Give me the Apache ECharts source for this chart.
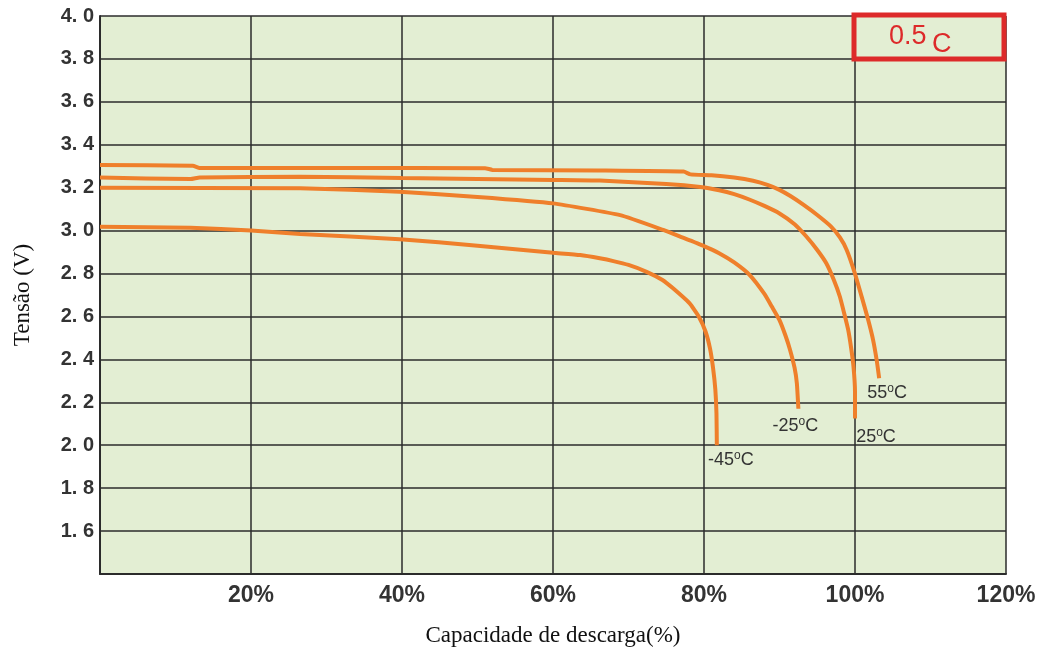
<!DOCTYPE html>
<html>
<head>
<meta charset="utf-8">
<title>Curvas de descarga 0.5C</title>
<script src="https://cdn.jsdelivr.net/npm/echarts@6/dist/echarts.min.js"></script>
<style>
  html, body { margin: 0; padding: 0; background: #ffffff; }
  #chart { width: 1048px; height: 653px; }
</style>
</head>
<body>
<div id="chart"></div>
<script>
// Discharge curves: [capacity %, voltage V]
const curve55 = [
  [0, 3.306], [12.3, 3.302], [13.2, 3.292], [33, 3.292], [51, 3.291], [52, 3.283],
  [66, 3.28], [77.3, 3.275], [78.2, 3.262], [81, 3.258], [84, 3.247], [86.5, 3.232],
  [88.5, 3.212], [90, 3.19], [91.5, 3.16], [93.2, 3.12], [95, 3.073], [96.8, 3.02],
  [98, 2.968], [98.9, 2.91], [99.9, 2.81], [100.9, 2.69], [101.7, 2.59], [102.4, 2.49],
  [102.9, 2.39], [103.2, 2.312]
];
const curve25 = [
  [0, 3.247], [12, 3.24], [13.2, 3.248], [26.5, 3.251], [40, 3.245], [60, 3.236],
  [66.2, 3.233], [75, 3.217], [79.5, 3.203], [82, 3.188], [84, 3.17], [86, 3.145],
  [88, 3.115], [90, 3.08], [92, 3.03], [93.5, 2.975], [95, 2.91], [96.2, 2.848],
  [97.2, 2.77], [98, 2.692], [98.6, 2.61], [99.1, 2.537], [99.5, 2.45], [99.8, 2.366],
  [100, 2.25], [100, 2.125]
];
const curveM25 = [
  [0, 3.2], [26.5, 3.197], [39.7, 3.181], [50, 3.157], [60, 3.127], [68.9, 3.072],
  [74.6, 3.003], [77, 2.97], [80, 2.928], [82, 2.895], [84, 2.852], [86, 2.795],
  [88, 2.705], [89, 2.645], [90, 2.583], [90.8, 2.51], [91.4, 2.444], [92, 2.36],
  [92.3, 2.288], [92.5, 2.17]
];
const curveM45 = [
  [0, 3.018], [12, 3.013], [20, 3.0], [26.5, 2.984], [39.7, 2.96], [50, 2.93],
  [60, 2.897], [63.6, 2.886], [66.2, 2.871], [68, 2.858], [70, 2.84], [72.4, 2.808],
  [74.5, 2.77], [75.9, 2.731], [78.1, 2.661], [79.3, 2.6], [80.2, 2.53], [80.8, 2.45],
  [81.2, 2.36], [81.5, 2.26], [81.65, 2.15], [81.7, 2.0]
];
const temperatures = ['55', '25', '-25', '-45'];
const curves = [curve55, curve25, curveM25, curveM45];
const labelOffsets = [[8, 15], [21, 19], [-3, 17], [14, 15]];

const xTicks = { min: 0, max: 120, step: 20 };
const yTicks = { min: 1.4, max: 4.0, step: 0.2 };
const rateText = ['0.5', 'C'];

const ORANGE = '#ef7f2b';
const INK = '#333333';
const GRID = '#2b2b2b';
const RED = '#dd2a2a';
const SANS = '"Liberation Sans", Arial, sans-serif';
const SERIF = '"Liberation Serif", "Times New Roman", serif';

const series = curves.map((pts, i) => ({
  name: temperatures[i] + '°C',
  type: 'line',
  data: pts,
  showSymbol: false,
  smooth: 0.15,
  lineStyle: { color: ORANGE, width: 4 },
  itemStyle: { color: ORANGE },
  z: 3,
  markPoint: {
    symbol: 'circle',
    symbolSize: 0,
    silent: true,
    data: [{
      coord: pts[pts.length - 1],
      label: {
        show: true,
        position: 'inside',
        offset: labelOffsets[i],
        formatter: '{n|' + temperatures[i] + '}{d|o}{n|C}',
        rich: {
          n: { fontFamily: SANS, fontSize: 18, color: INK, lineHeight: 20 },
          d: { fontFamily: SANS, fontSize: 12, color: INK, lineHeight: 20, padding: [0, 0, 9, 0] }
        }
      }
    }]
  }
}));

const chart = echarts.init(document.getElementById('chart'), null, { renderer: 'canvas' });
chart.setOption({
  animation: false,
  backgroundColor: '#ffffff',
  grid: {
    left: 100, right: 42, top: 16, bottom: 79,
    show: true, backgroundColor: '#e3eed3', borderWidth: 0
  },
  xAxis: {
    type: 'value',
    min: xTicks.min, max: xTicks.max, interval: xTicks.step,
    name: 'Capacidade de descarga(%)',
    nameLocation: 'middle',
    nameGap: 50,
    nameTextStyle: { fontFamily: SERIF, fontSize: 23, color: '#111', verticalAlign: 'top' },
    axisLine: { show: true, lineStyle: { color: GRID, width: 2 } },
    axisTick: { show: false },
    splitLine: { show: true, lineStyle: { color: GRID, width: 1.5 } },
    axisLabel: {
      margin: 10,
      fontFamily: SANS, fontSize: 23, fontWeight: 'bold', color: INK,
      formatter: v => (v === 0 ? '' : v + '%')
    }
  },
  yAxis: {
    type: 'value',
    min: yTicks.min, max: yTicks.max, interval: yTicks.step,
    name: 'Tensão (V)',
    nameLocation: 'middle',
    nameGap: 66,
    nameRotate: 90,
    nameTextStyle: { fontFamily: SERIF, fontSize: 23, color: '#111' },
    axisLine: { show: true, lineStyle: { color: GRID, width: 2 } },
    axisTick: { show: false },
    splitLine: { show: true, lineStyle: { color: GRID, width: 1.5 } },
    axisLabel: {
      margin: 6,
      fontFamily: SANS, fontSize: 20, fontWeight: 'bold', color: INK,
      formatter: v => (v < yTicks.min + 0.05 ? '' : v.toFixed(1).replace('.', '. '))
    }
  },
  series: series,
  graphic: [
    {
      type: 'rect', z: 10,
      shape: { x: 854, y: 15, width: 150, height: 44 },
      style: { fill: 'transparent', stroke: RED, lineWidth: 5 }
    },
    {
      type: 'text', z: 11, left: 889, top: 23,
      style: { text: rateText[0], fontFamily: SANS, fontSize: 27, fill: RED }
    },
    {
      type: 'text', z: 11, left: 932, top: 31,
      style: { text: rateText[1], fontFamily: SANS, fontSize: 27, fill: RED }
    }
  ]
});
</script>
</body>
</html>
